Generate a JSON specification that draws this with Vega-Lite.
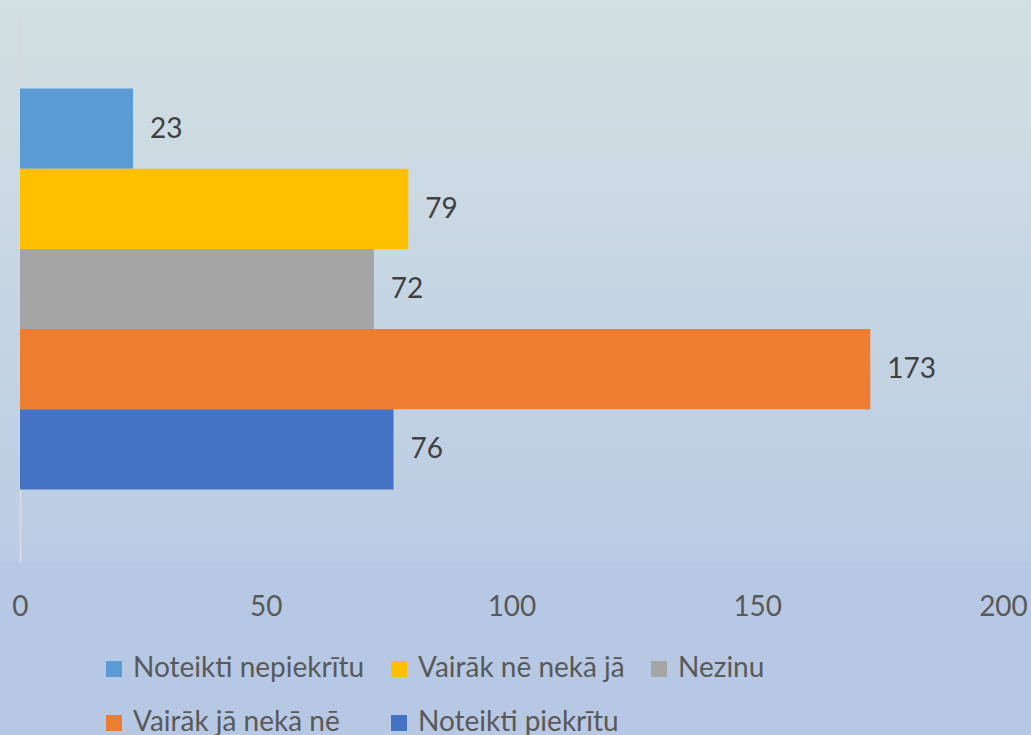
{
  "$schema": "https://vega.github.io/schema/vega-lite/v6.json",
  "width": 1031,
  "height": 562,
  "padding": {"left": 0, "top": 0, "right": 0, "bottom": 173},
  "autosize": {"type": "none"},
  "background": "#b6c8e3",
  "config": {
    "font": "Lato",
    "view": {
      "stroke": null,
      "fill": {
        "gradient": "linear",
        "x1": 0, "y1": 0, "x2": 0, "y2": 1,
        "stops": [
          {"offset": 0, "color": "#d3e0e2"},
          {"offset": 1, "color": "#bacce4"}
        ]
      }
    }
  },
  "data": {
    "values": [
      {"answer": "Noteikti nepiekrītu", "count": 23},
      {"answer": "Vairāk nē nekā jā", "count": 79},
      {"answer": "Nezinu", "count": 72},
      {"answer": "Vairāk jā nekā nē", "count": 173},
      {"answer": "Noteikti piekrītu", "count": 76}
    ]
  },
  "encoding": {
    "y": {
      "field": "answer",
      "type": "nominal",
      "sort": ["Noteikti nepiekrītu", "Vairāk nē nekā jā", "Nezinu", "Vairāk jā nekā nē", "Noteikti piekrītu"],
      "scale": {"range": [16, 562], "paddingInner": 0, "paddingOuter": 0.904, "align": 0.5},
      "axis": {"title": null, "labels": false, "ticks": false, "grid": false, "domainColor": "#d9d9d9", "domainWidth": 2, "offset": -20}
    },
    "x": {
      "field": "count",
      "type": "quantitative",
      "scale": {"domain": [-4.069, 205.7], "nice": false, "zero": false},
      "axis": {
        "title": null,
        "values": [0, 50, 100, 150, 200],
        "domain": false,
        "ticks": false,
        "grid": false,
        "labelFontSize": 28,
        "labelColor": "#595959",
        "labelPadding": 31,
        "labelFlush": false
      }
    }
  },
  "layer": [
    {
      "mark": {"type": "bar"},
      "encoding": {
        "x2": {"datum": 0},
        "color": {
          "field": "answer",
          "type": "nominal",
          "scale": {
            "domain": ["Noteikti nepiekrītu", "Vairāk nē nekā jā", "Nezinu", "Vairāk jā nekā nē", "Noteikti piekrītu"],
            "range": ["#5b9bd5", "#ffc000", "#a5a5a5", "#ed7d31", "#4472c4"]
          },
          "legend": {
            "title": null,
            "orient": "none",
            "legendX": 100,
            "legendY": 655,
            "direction": "horizontal",
            "columns": 3,
            "symbolType": "square",
            "symbolSize": 256,
            "symbolStrokeWidth": 0,
            "symbolOpacity": 1,
            "labelFontSize": 28,
            "labelColor": "#595959",
            "labelLimit": 0,
            "labelOffset": 5,
            "rowPadding": 26,
            "columnPadding": 20
          }
        }
      }
    },
    {
      "mark": {"type": "text", "align": "left", "baseline": "middle", "dx": 17, "dy": 1, "fontSize": 28, "color": "#404040"},
      "encoding": {"text": {"field": "count", "type": "quantitative"}}
    }
  ]
}
